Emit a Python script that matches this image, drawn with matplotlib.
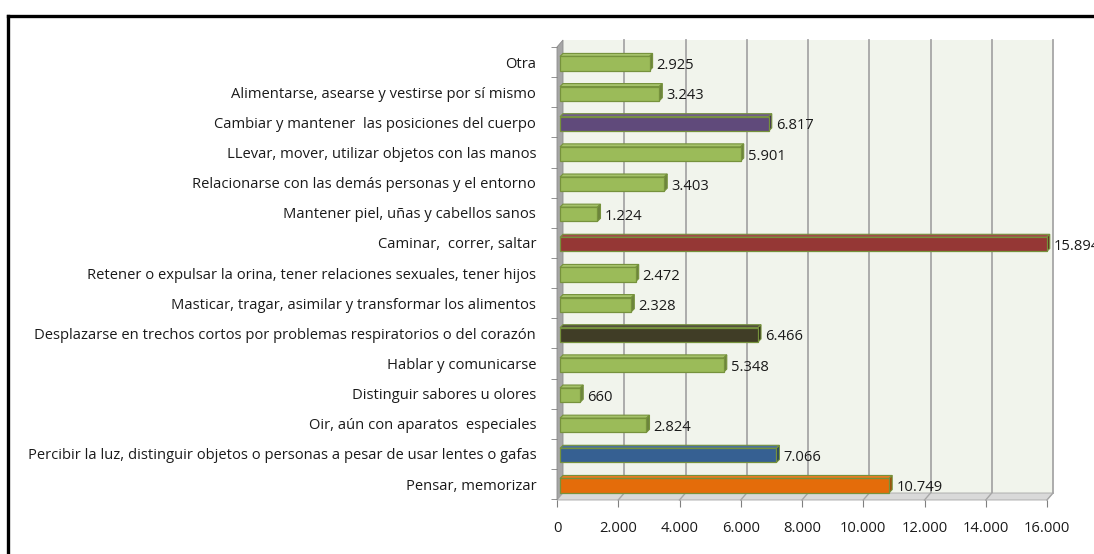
import numpy as np
import matplotlib
matplotlib.use("Agg")
import matplotlib.pyplot as plt
from matplotlib.patches import Polygon, Rectangle
from matplotlib.lines import Line2D

plt.rcParams['font.family'] = ['Open Sans', 'DejaVu Sans']

# categories, bottom to top
categories = [
    "Pensar, memorizar",
    "Percibir la luz, distinguir objetos o personas a pesar de usar lentes o gafas",
    "Oir, aún con aparatos  especiales",
    "Distinguir sabores u olores",
    "Hablar y comunicarse",
    "Desplazarse en trechos cortos por problemas respiratorios o del corazón",
    "Masticar, tragar, asimilar y transformar los alimentos",
    "Retener o expulsar la orina, tener relaciones sexuales, tener hijos",
    "Caminar,  correr, saltar",
    "Mantener piel, uñas y cabellos sanos",
    "Relacionarse con las demás personas y el entorno",
    "LLevar, mover, utilizar objetos con las manos",
    "Cambiar y mantener  las posiciones del cuerpo",
    "Alimentarse, asearse y vestirse por sí mismo",
    "Otra",
]
values = [10749, 7066, 2824, 660, 5348, 6466, 2328, 2472, 15894, 1224, 3403, 5901, 6817, 3243, 2925]
colors = ["#E46C0A", "#366092", "#9BBB59", "#9BBB59", "#9BBB59", "#403D26", "#9BBB59",
          "#9BBB59", "#953735", "#9BBB59", "#9BBB59", "#9BBB59", "#604A7B", "#9BBB59", "#9BBB59"]
xticks = [0, 2000, 4000, 6000, 8000, 10000, 12000, 14000, 16000]


def fmt(v):
    return "{:,}".format(v).replace(",", ".")


def shade(c, f):
    rgb = np.array(matplotlib.colors.to_rgb(c))
    if f > 1:
        rgb = rgb + (1 - rgb) * (f - 1)
    else:
        rgb = rgb * f
    return tuple(np.clip(rgb, 0, 1))


fig = plt.figure(figsize=(10.94, 5.54), dpi=100)
W, H = 1094, 554
ax = fig.add_axes([557 / W, (H - 500) / H, 490 / W, (500 - 40) / H])
xmax = 16000
ylo, yhi = -0.53, 14.73
ax.set_xlim(0, xmax)
ax.set_ylim(ylo, yhi)

pxx = xmax / 490.0
pxy = (yhi - ylo) / 460.0
dx, dy = 6 * pxx, 7 * pxy

# back wall, left wall, floor
ax.add_patch(Rectangle((dx, ylo + dy), xmax, yhi - ylo - dy, facecolor="#F1F4EC",
                       edgecolor="none", clip_on=False, zorder=0))
ax.add_patch(Polygon([(0, ylo), (dx, ylo + dy), (dx, yhi), (0, yhi - dy)],
                     facecolor="#A6A6A6", edgecolor="#8C8C8C", lw=0.6, clip_on=False, zorder=1))
ax.add_patch(Polygon([(0, ylo), (xmax, ylo), (xmax + dx, ylo + dy), (dx, ylo + dy)],
                     facecolor="#D9D9D9", edgecolor="#A6A6A6", lw=0.6, clip_on=False, zorder=1))
for t in xticks[1:]:
    ax.add_line(Line2D([t + dx, t + dx], [ylo + dy, yhi], color="#A6A6A6", lw=1.3,
                       clip_on=False, zorder=0.5))
    ax.add_line(Line2D([t, t + dx], [ylo, ylo + dy], color="#A6A6A6", lw=1.0,
                       clip_on=False, zorder=1.5))

# 3d bars
bh = 0.47
bx, by = 3 * pxx, 3 * pxy
x0 = dx * 0.5
for i, (v, c) in enumerate(zip(values, colors)):
    yb = i - bh / 2 - by / 2
    x1 = x0 + v
    ax.add_patch(Polygon([(x0, yb + bh), (x1, yb + bh), (x1 + bx, yb + bh + by), (x0 + bx, yb + bh + by)],
                         facecolor=shade(c, 1.1), edgecolor="#76923C", lw=0.8, clip_on=False, zorder=3))
    ax.add_patch(Polygon([(x1, yb), (x1 + bx, yb + by), (x1 + bx, yb + bh + by), (x1, yb + bh)],
                         facecolor=shade(c, 0.7), edgecolor="#76923C", lw=0.8, clip_on=False, zorder=3))
    ax.add_patch(Rectangle((x0, yb), v, bh, facecolor=c, edgecolor="#76923C", lw=0.9,
                           clip_on=False, zorder=4))
    ax.text(x1 + bx + 4 * pxx, i - 0.12, fmt(v), fontsize=10.6, color="#1A1A1A",
            va="center", ha="left", zorder=5, clip_on=False)

for s in ax.spines.values():
    s.set_visible(False)

ax.set_xticks(xticks)
ax.set_xticklabels([fmt(t) for t in xticks], fontsize=10.6, color="#1A1A1A")
ax.tick_params(axis="x", length=5, color="#808080", pad=10)
ax.set_yticks(range(len(categories)))
ax.set_yticklabels(categories, fontsize=10.6, color="#1A1A1A")
ax.tick_params(axis="y", length=0, pad=15)
ax.set_yticks(np.arange(-0.5, len(categories), 1.0), minor=True)
ax.tick_params(axis="y", which="minor", length=4, color="#808080")

# chart border
fig.add_artist(Line2D([8 / W, 1.0], [1 - 16 / H, 1 - 16 / H], color="black", lw=2.4,
                      transform=fig.transFigure))
fig.add_artist(Line2D([8 / W, 8 / W], [1 - 16 / H, 0], color="black", lw=2.4,
                      transform=fig.transFigure))

fig.savefig("out.png", dpi=100)
